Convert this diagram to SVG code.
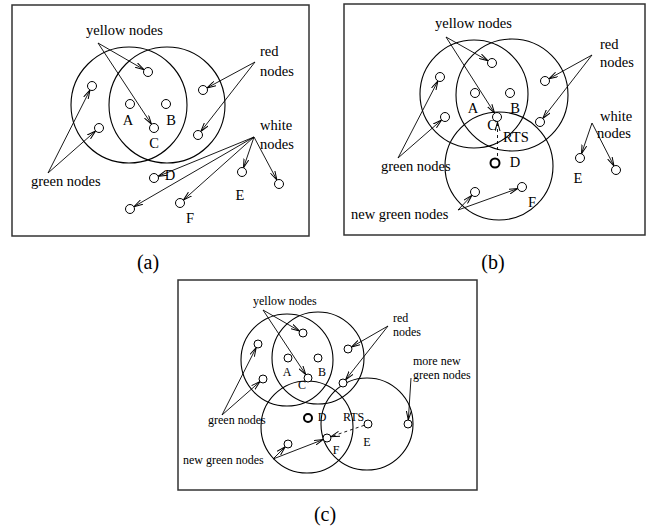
<svg xmlns="http://www.w3.org/2000/svg" width="652" height="531" viewBox="0 0 652 531">
<defs>
<marker id="ah" viewBox="0 0 9 6" refX="9" refY="3" markerWidth="9" markerHeight="6" markerUnits="userSpaceOnUse" orient="auto">
<path d="M0,0.5 L9,3 L0,5.5" fill="none" stroke="#000" stroke-width="1"/>
</marker>
</defs>
<style>
.frame{fill:#fff;stroke:#333;stroke-width:1.5}
.big{fill:none;stroke:#000;stroke-width:1.1}
.nd{fill:#fff;stroke:#000;stroke-width:1}
.nb{fill:#fff;stroke:#000;stroke-width:2}
.ar{fill:none;stroke:#000;stroke-width:0.9;marker-end:url(#ah)}
.da{fill:none;stroke:#000;stroke-width:0.9;stroke-dasharray:3 3;marker-end:url(#ah)}
text{font-family:"Liberation Serif","Times New Roman",serif;fill:#000}
.t{font-size:14.5px}
.s{font-size:12px}
.cap{font-size:20px;text-anchor:middle}
.m{text-anchor:middle}
</style>
<rect width="652" height="531" fill="#fff"/>

<!-- Panel (a) -->
<g id="panel-a">
<rect class="frame" x="12" y="5" width="297" height="231"/>
<g id="a-regions">
<circle class="big" cx="129" cy="105" r="58"/>
<circle class="big" cx="167" cy="105" r="58"/>
</g>
<g id="a-connectors">
<line class="ar" x1="98" y1="43" x2="144.1" y2="69.7"/>
<line class="ar" x1="98" y1="43" x2="151.5" y2="124.2"/>
<line class="ar" x1="255" y1="62" x2="207" y2="87.9"/>
<line class="ar" x1="255" y1="62" x2="200.8" y2="131.5"/>
<line class="ar" x1="48" y1="173" x2="90" y2="90"/>
<line class="ar" x1="48" y1="173" x2="95.6" y2="131"/>
<line class="ar" x1="254" y1="137" x2="158.2" y2="176.3"/>
<line class="ar" x1="254" y1="137" x2="133.9" y2="206.7"/>
<line class="ar" x1="254" y1="137" x2="183.4" y2="200"/>
<line class="ar" x1="254" y1="137" x2="243.5" y2="167.7"/>
<line class="ar" x1="254" y1="137" x2="276.9" y2="180"/>
</g>
<g id="a-green-1"><circle class="nd" cx="92" cy="86" r="4.5"/></g>
<g id="a-green-2"><circle class="nd" cx="99" cy="128" r="4.5"/></g>
<g id="a-yellow-1"><circle class="nd" cx="148" cy="72" r="4.5"/></g>
<g id="a-A"><circle class="nd" cx="130" cy="104" r="4.5"/><text class="t m" x="128" y="125">A</text></g>
<g id="a-B"><circle class="nd" cx="166" cy="104" r="4.5"/><text class="t m" x="171" y="125">B</text></g>
<g id="a-C"><circle class="nd" cx="154" cy="128" r="4.5"/><text class="t m" x="154" y="148">C</text></g>
<g id="a-red-1"><circle class="nd" cx="203" cy="90" r="4.5"/></g>
<g id="a-red-2"><circle class="nd" cx="198" cy="135" r="4.5"/></g>
<g id="a-D"><circle class="nd" cx="154" cy="178" r="4.5"/><text class="t m" x="170" y="180">D</text></g>
<g id="a-white-1"><circle class="nd" cx="130" cy="209" r="4.5"/></g>
<g id="a-F"><circle class="nd" cx="180" cy="203" r="4.5"/><text class="t m" x="190" y="223">F</text></g>
<g id="a-E"><circle class="nd" cx="242" cy="172" r="4.5"/><text class="t m" x="240" y="200">E</text></g>
<g id="a-white-2"><circle class="nd" cx="279" cy="184" r="4.5"/></g>
<g id="a-labels">
<text class="t" x="86" y="35">yellow nodes</text>
<text class="t" x="260" y="56">red</text>
<text class="t" x="260" y="76">nodes</text>
<text class="t" x="260" y="130">white</text>
<text class="t" x="260" y="149">nodes</text>
<text class="t" x="31" y="186">green nodes</text>
</g>
<text class="cap" x="148" y="269">(a)</text>
</g>

<!-- Panel (b) -->
<g id="panel-b">
<rect class="frame" x="344" y="4" width="301" height="231"/>
<g id="b-regions">
<circle class="big" cx="474" cy="94" r="54"/>
<circle class="big" cx="512" cy="95" r="56"/>
<circle class="big" cx="499" cy="166" r="54"/>
</g>
<g id="b-connectors">
<line class="ar" x1="446" y1="37" x2="488.1" y2="60.8"/>
<line class="ar" x1="446" y1="37" x2="494.6" y2="113.2"/>
<line class="ar" x1="398" y1="158" x2="437.9" y2="81"/>
<line class="ar" x1="398" y1="158" x2="441.6" y2="120"/>
<line class="ar" x1="592" y1="55" x2="548.9" y2="78.8"/>
<line class="ar" x1="592" y1="55" x2="542.8" y2="118.4"/>
<line class="ar" x1="458" y1="210" x2="471.9" y2="195.3"/>
<line class="ar" x1="458" y1="210" x2="517.8" y2="188.5"/>
<line class="ar" x1="592" y1="123" x2="581.5" y2="153.7"/>
<line class="ar" x1="592" y1="123" x2="614" y2="166"/>
<line class="da" x1="497.5" y1="156" x2="497.5" y2="122"/>
</g>
<g id="b-green-1"><circle class="nd" cx="440" cy="77" r="4.5"/></g>
<g id="b-green-2"><circle class="nd" cx="445" cy="117" r="4.5"/></g>
<g id="b-yellow-1"><circle class="nd" cx="492" cy="63" r="4.5"/></g>
<g id="b-A"><circle class="nd" cx="475" cy="93" r="4.5"/><text class="t m" x="473" y="113">A</text></g>
<g id="b-B"><circle class="nd" cx="510" cy="93" r="4.5"/><text class="t m" x="515" y="113">B</text></g>
<g id="b-C"><circle class="nd" cx="497" cy="117" r="4.5"/><text class="t m" x="492" y="130">C</text></g>
<g id="b-red-1"><circle class="nd" cx="545" cy="81" r="4.5"/></g>
<g id="b-red-2"><circle class="nd" cx="540" cy="122" r="4.5"/></g>
<g id="b-D"><circle class="nb" cx="495" cy="163" r="4.5"/><text class="t m" x="515" y="167">D</text></g>
<g id="b-newgreen-1"><circle class="nd" cx="475" cy="192" r="4.5"/></g>
<g id="b-F"><circle class="nd" cx="522" cy="187" r="4.5"/><text class="t m" x="532" y="207">F</text></g>
<g id="b-E"><circle class="nd" cx="580" cy="158" r="4.5"/><text class="t m" x="578" y="183">E</text></g>
<g id="b-white-2"><circle class="nd" cx="616" cy="170" r="4.5"/></g>
<g id="b-labels">
<text class="t" x="435" y="28">yellow nodes</text>
<text class="t" x="600" y="49">red</text>
<text class="t" x="600" y="67">nodes</text>
<text class="t" x="600" y="121">white</text>
<text class="t" x="597" y="138">nodes</text>
<text class="t" x="381" y="171">green nodes</text>
<text class="t" x="351" y="219">new green nodes</text>
<text class="t" x="503" y="142">RTS</text>
</g>
<text class="cap" x="493" y="269">(b)</text>
</g>

<!-- Panel (c) -->
<g id="panel-c">
<rect class="frame" x="178" y="280" width="299" height="210"/>
<g id="c-regions">
<circle class="big" cx="287" cy="360" r="46"/>
<circle class="big" cx="318" cy="358" r="46"/>
<circle class="big" cx="307" cy="427" r="46"/>
<circle class="big" cx="367" cy="424" r="46"/>
</g>
<g id="c-connectors">
<line class="ar" x1="263" y1="310" x2="299.5" y2="331"/>
<line class="ar" x1="263" y1="310" x2="305.8" y2="374.7"/>
<line class="ar" x1="388" y1="326" x2="351.5" y2="347"/>
<line class="ar" x1="388" y1="326" x2="345.5" y2="379.9"/>
<line class="ar" x1="222" y1="415" x2="256.2" y2="347.6"/>
<line class="ar" x1="222" y1="415" x2="260" y2="381.6"/>
<line class="ar" x1="273" y1="459" x2="285.2" y2="446.8"/>
<line class="ar" x1="273" y1="459" x2="323.3" y2="439.5"/>
<line class="ar" x1="411" y1="378" x2="408.3" y2="420"/>
<line class="da" x1="364.2" y1="425.3" x2="330.8" y2="436.7"/>
</g>
<g id="c-green-1"><circle class="nd" cx="258" cy="344" r="4"/></g>
<g id="c-green-2"><circle class="nd" cx="263" cy="379" r="4"/></g>
<g id="c-yellow-1"><circle class="nd" cx="303" cy="333" r="4"/></g>
<g id="c-A"><circle class="nd" cx="288" cy="358" r="4"/><text class="s m" x="287" y="376">A</text></g>
<g id="c-B"><circle class="nd" cx="318" cy="358" r="4"/><text class="s m" x="322" y="376">B</text></g>
<g id="c-C"><circle class="nd" cx="308" cy="378" r="4"/><text class="s m" x="302" y="389">C</text></g>
<g id="c-red-1"><circle class="nd" cx="348" cy="349" r="4"/></g>
<g id="c-red-2"><circle class="nd" cx="343" cy="383" r="4"/></g>
<g id="c-D"><circle class="nb" cx="308" cy="418" r="4"/><text class="s m" x="322" y="421">D</text></g>
<g id="c-newgreen-1"><circle class="nd" cx="288" cy="444" r="4"/></g>
<g id="c-F"><circle class="nd" cx="327" cy="438" r="4"/><text class="s m" x="336" y="454">F</text></g>
<g id="c-E"><circle class="nd" cx="368" cy="424" r="4"/><text class="s m" x="367" y="446">E</text></g>
<g id="c-morenew"><circle class="nd" cx="408" cy="424" r="4"/></g>
<g id="c-labels">
<text class="s" x="253" y="305">yellow nodes</text>
<text class="s" x="393" y="322">red</text>
<text class="s" x="393" y="336">nodes</text>
<text class="s" x="413" y="365">more new</text>
<text class="s" x="413" y="379">green nodes</text>
<text class="s" x="208" y="424">green nodes</text>
<text class="s" x="183" y="464">new green nodes</text>
<text class="s" x="343" y="421">RTS</text>
</g>
<text class="cap" x="325" y="521">(c)</text>
</g>
</svg>
